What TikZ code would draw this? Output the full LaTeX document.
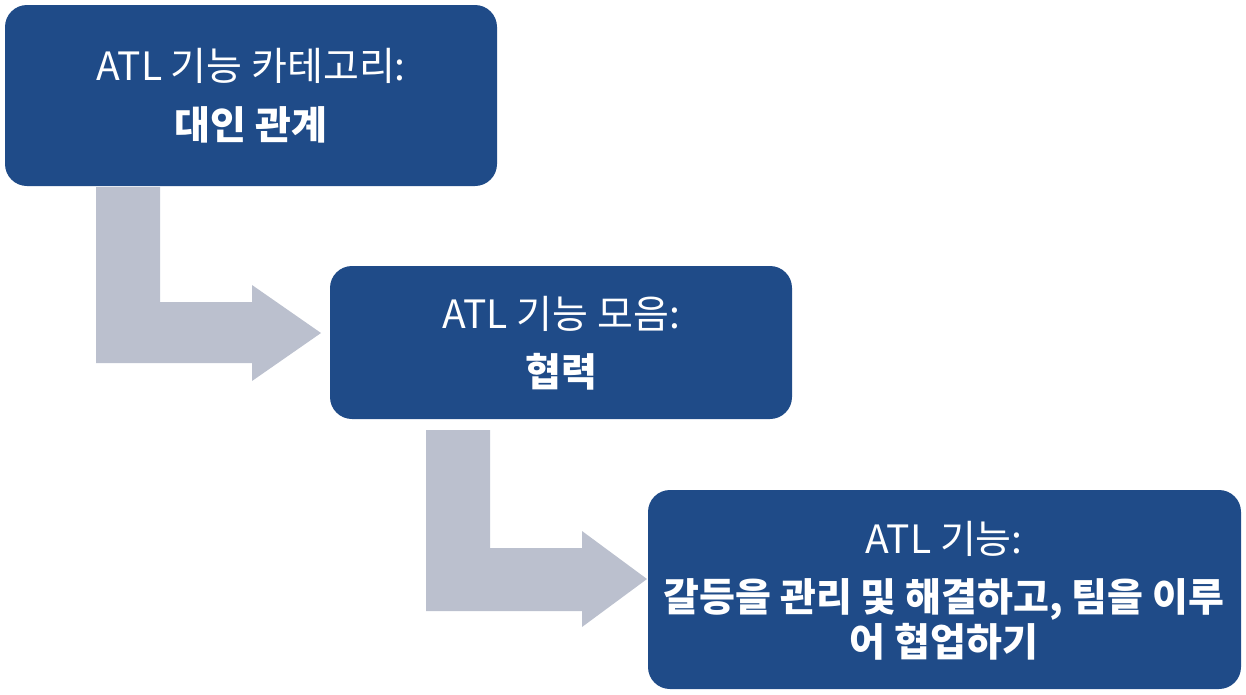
\documentclass[tikz,border=0pt]{standalone}
\usepackage{fontspec}
\setmainfont{Noto Sans CJK KR}
\definecolor{boxblue}{HTML}{1F4B88}
\definecolor{arrowgray}{HTML}{BBC0CE}
\begin{document}
\begin{tikzpicture}[x=1pt,y=-1pt,
  box/.style={fill=boxblue,draw=none,rounded corners=22pt},
  reg/.style={text=white,anchor=base,inner sep=0pt,font=\fontsize{39}{44}\selectfont},
  bld/.style={text=white,anchor=base,inner sep=0pt,font=\fontsize{39}{44}\selectfont\bfseries},
  bent/.style={fill=arrowgray,draw=none}]
\useasboundingbox (0,0) rectangle (1246,694);
% boxes
\fill[box] (5,5) rectangle (497,186);
\fill[box] (330,266) rectangle (792,419);
\fill[box] (648,490) rectangle (1241,689);
% arrows
\fill[bent] (96,187) -- (160,187) -- (160,302) -- (252,302) -- (252,285) -- (321,333)
  -- (252,381) -- (252,363) -- (96,363) -- cycle;
\fill[bent] (426,430) -- (490,430) -- (490,548) -- (582,548) -- (582,531) -- (647,579)
  -- (582,627) -- (582,611) -- (426,611) -- cycle;
% texts
\node[reg] (t1a) at (251,80) {ATL 기능 카테고리:};
\node[bld] (t1b) at (251,139) {대인 관계};
\node[reg] (t2a) at (561,328) {ATL 기능 모음:};
\node[bld] (t2b) at (561,386) {협력};
\node[reg] (t3a) at (944,553) {ATL 기능:};
\node[bld] (t3b) at (944,611) {갈등을 관리 및 해결하고, 팀을 이루};
\node[bld] (t3c) at (944,656) {어 협업하기};
\end{tikzpicture}
\end{document}
